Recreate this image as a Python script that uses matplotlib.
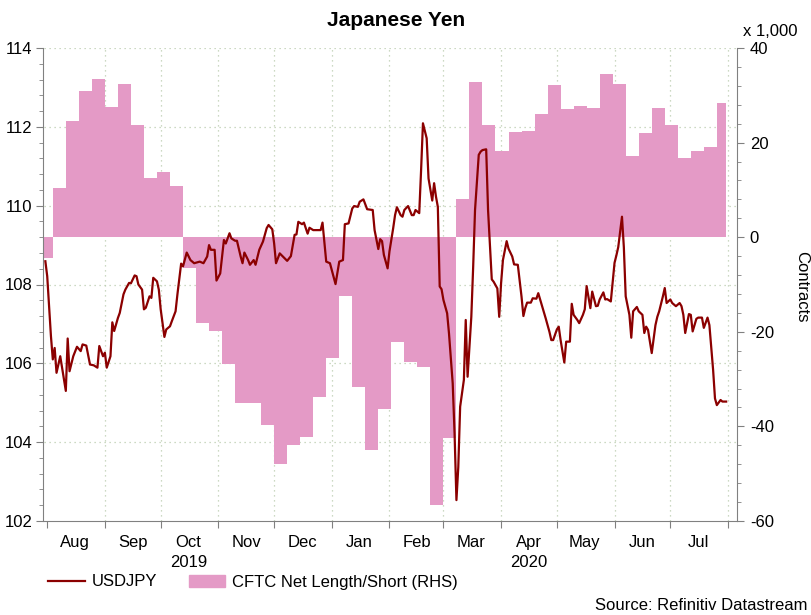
import pandas as pd
import matplotlib
matplotlib.use('Agg')
import matplotlib.pyplot as plt
import matplotlib.dates as mdates
import matplotlib.transforms as mtrans
from matplotlib.lines import Line2D
from matplotlib.patches import Patch
from matplotlib.ticker import MultipleLocator, NullFormatter

plt.rcParams['font.family'] = ['Liberation Sans', 'DejaVu Sans']
plt.rcParams['axes.unicode_minus'] = False

# USDJPY daily (left axis)
usdjpy_dates = [
    '2019-07-31', '2019-08-01', '2019-08-03', '2019-08-04', '2019-08-05', '2019-08-06', '2019-08-08', '2019-08-10', '2019-08-11', '2019-08-12', '2019-08-13', '2019-08-15', '2019-08-17', '2019-08-19', '2019-08-20', '2019-08-22', '2019-08-24', '2019-08-26', '2019-08-28', '2019-08-29', '2019-08-31',
    '2019-09-01', '2019-09-02', '2019-09-04', '2019-09-05', '2019-09-06', '2019-09-08', '2019-09-09', '2019-09-11', '2019-09-12', '2019-09-14', '2019-09-15', '2019-09-17', '2019-09-18', '2019-09-19', '2019-09-21', '2019-09-22', '2019-09-23', '2019-09-25', '2019-09-26', '2019-09-27', '2019-09-29', '2019-09-30',
    '2019-10-01', '2019-10-03', '2019-10-04', '2019-10-06', '2019-10-07', '2019-10-09', '2019-10-10', '2019-10-12', '2019-10-13', '2019-10-15', '2019-10-17', '2019-10-19', '2019-10-22', '2019-10-24', '2019-10-26', '2019-10-27', '2019-10-28', '2019-10-30', '2019-10-31',
    '2019-11-02', '2019-11-04', '2019-11-05', '2019-11-07', '2019-11-08', '2019-11-10', '2019-11-11', '2019-11-13', '2019-11-14', '2019-11-15', '2019-11-17', '2019-11-18', '2019-11-20', '2019-11-21', '2019-11-23', '2019-11-25', '2019-11-27', '2019-11-28', '2019-11-30',
    '2019-12-01', '2019-12-02', '2019-12-04', '2019-12-08', '2019-12-10', '2019-12-12', '2019-12-13', '2019-12-14', '2019-12-16', '2019-12-17', '2019-12-19', '2019-12-20', '2019-12-22', '2019-12-24', '2019-12-26', '2019-12-27', '2019-12-29', '2019-12-31',
    '2020-01-03', '2020-01-05', '2020-01-07', '2020-01-08', '2020-01-10', '2020-01-12', '2020-01-13', '2020-01-15', '2020-01-16', '2020-01-18', '2020-01-20', '2020-01-23', '2020-01-24', '2020-01-26', '2020-01-27', '2020-01-28', '2020-01-29', '2020-01-31',
    '2020-02-01', '2020-02-03', '2020-02-04', '2020-02-05', '2020-02-07', '2020-02-08', '2020-02-09', '2020-02-11', '2020-02-13', '2020-02-14', '2020-02-15', '2020-02-17', '2020-02-18', '2020-02-19', '2020-02-21', '2020-02-22', '2020-02-24', '2020-02-25', '2020-02-26', '2020-02-27', '2020-02-28', '2020-02-29',
    '2020-03-01', '2020-03-03', '2020-03-04', '2020-03-06', '2020-03-07', '2020-03-08', '2020-03-09', '2020-03-10', '2020-03-12', '2020-03-13', '2020-03-14', '2020-03-16', '2020-03-17', '2020-03-18', '2020-03-20', '2020-03-21', '2020-03-22', '2020-03-24', '2020-03-25', '2020-03-27', '2020-03-28', '2020-03-30', '2020-03-31',
    '2020-04-01', '2020-04-02', '2020-04-04', '2020-04-05', '2020-04-07', '2020-04-08', '2020-04-10', '2020-04-12', '2020-04-13', '2020-04-14', '2020-04-15', '2020-04-17', '2020-04-18', '2020-04-20', '2020-04-21', '2020-04-23', '2020-04-25', '2020-04-27', '2020-04-28', '2020-04-29',
    '2020-05-01', '2020-05-02', '2020-05-03', '2020-05-05', '2020-05-06', '2020-05-08', '2020-05-09', '2020-05-10', '2020-05-12', '2020-05-13', '2020-05-15', '2020-05-16', '2020-05-17', '2020-05-19', '2020-05-20', '2020-05-22', '2020-05-23', '2020-05-24', '2020-05-26', '2020-05-27', '2020-05-28', '2020-05-30',
    '2020-06-01', '2020-06-02', '2020-06-03', '2020-06-05', '2020-06-06', '2020-06-07', '2020-06-09', '2020-06-10', '2020-06-11', '2020-06-13', '2020-06-14', '2020-06-16', '2020-06-17', '2020-06-18', '2020-06-19', '2020-06-21', '2020-06-23', '2020-06-24', '2020-06-25', '2020-06-27', '2020-06-28', '2020-06-29',
    '2020-07-01', '2020-07-02', '2020-07-04', '2020-07-06', '2020-07-07', '2020-07-08', '2020-07-09', '2020-07-11', '2020-07-12', '2020-07-13', '2020-07-15', '2020-07-16', '2020-07-18', '2020-07-19', '2020-07-21', '2020-07-22', '2020-07-24', '2020-07-25', '2020-07-26', '2020-07-28', '2020-07-29', '2020-07-31',
]
usdjpy = [
    108.59, 108.21, 106.69, 106.10, 106.39, 105.76, 106.18, 105.59, 105.30, 106.63, 105.80, 106.18, 106.42, 106.31, 106.48, 106.45, 105.97, 105.95, 105.89, 106.44, 106.18,
    106.27, 105.89, 106.18, 107.04, 106.82, 107.15, 107.28, 107.75, 107.87, 108.04, 108.03, 108.23, 108.21, 108.00, 107.87, 107.37, 107.41, 107.70, 107.66, 108.17, 108.08, 107.87,
    107.37, 106.67, 106.86, 106.94, 107.07, 107.32, 107.75, 108.53, 108.46, 108.81, 108.62, 108.54, 108.58, 108.54, 108.71, 109.00, 108.88, 108.88, 108.10,
    108.28, 109.13, 109.04, 109.30, 109.17, 109.11, 109.11, 108.71, 108.54, 108.81, 108.62, 108.50, 108.62, 108.50, 108.88, 109.09, 109.43, 109.51, 109.40,
    109.04, 108.54, 108.79, 108.60, 108.72, 109.26, 109.27, 109.59, 109.53, 109.57, 109.29, 109.44, 109.38, 109.38, 109.38, 109.57, 108.58, 108.54,
    108.01, 108.58, 108.62, 109.53, 109.55, 109.93, 109.99, 109.97, 110.10, 110.16, 109.91, 109.89, 109.38, 108.90, 109.15, 109.10, 108.75, 108.41,
    108.84, 109.43, 109.76, 109.96, 109.76, 109.72, 109.89, 109.99, 109.76, 109.76, 109.89, 109.81, 110.90, 112.09, 111.71, 110.69, 110.13, 110.57, 110.23, 109.97, 107.95, 107.88,
    107.61, 107.27, 106.76, 105.49, 104.22, 102.53, 103.37, 104.90, 105.58, 107.10, 105.66, 107.18, 108.45, 109.89, 111.29, 111.37, 111.41, 111.43, 109.89, 108.13, 108.07, 107.90, 107.18,
    108.03, 108.62, 109.10, 108.91, 108.71, 108.51, 108.50, 107.69, 107.20, 107.40, 107.54, 107.54, 107.65, 107.64, 107.78, 107.46, 107.14, 106.80, 106.59, 106.59,
    106.86, 106.93, 106.59, 106.02, 106.55, 106.55, 107.51, 107.23, 107.10, 107.02, 107.23, 107.37, 107.96, 107.40, 107.82, 107.45, 107.46, 107.62, 107.80, 107.62, 107.63, 107.57,
    108.55, 108.74, 108.95, 109.72, 108.95, 107.70, 107.23, 106.65, 107.32, 107.43, 107.32, 107.23, 106.77, 106.93, 106.85, 106.26, 106.97, 107.18, 107.32, 107.70, 107.91, 107.53,
    107.62, 107.53, 107.45, 107.53, 107.45, 107.23, 106.77, 107.25, 107.23, 106.81, 107.13, 107.16, 107.16, 106.90, 107.16, 106.97, 105.83, 105.11, 104.94, 105.07, 105.03, 105.03,
]

# CFTC net length/short, weekly, thousands of contracts (right axis)
cftc_start = '2019-07-28'
cftc_end = '2020-07-31'
cftc = [-4.3, 10.3, 24.6, 30.9, 33.4, 27.6, 32.4, 23.7, 12.6, 13.7, 10.8,
        -6.6, -18.1, -19.8, -26.8, -35.1, -35.1, -39.7, -47.9, -43.9, -42.3,
        -33.7, -25.5, -12.4, -31.6, -45.0, -36.4, -22.1, -26.4, -27.4, -56.6,
        -42.5, 8.0, 32.9, 23.7, 18.3, 22.3, 22.5, 26.0, 32.2, 27.1, 27.8, 27.4,
        34.5, 32.4, 17.2, 22.1, 27.4, 23.7, 16.7, 18.3, 19.1, 28.4]

month_labels = ['Aug', 'Sep', 'Oct\n2019', 'Nov', 'Dec', 'Jan', 'Feb', 'Mar',
                'Apr\n2020', 'May', 'Jun', 'Jul']

red = '#8b0000'
pink = '#e49ac6'
grey = '#808080'
gridc = '#bccdb0'

fig = plt.figure(figsize=(8.12, 6.15), dpi=100)
ax1 = fig.add_axes([43.5 / 812, 94 / 615, 693.8 / 812, 473 / 615])
ax2 = ax1.twinx()
ax2.set_zorder(1)
ax1.set_zorder(2)
ax1.patch.set_visible(False)

# grid sits under the area
hl = mtrans.blended_transform_factory(ax2.transAxes, ax1.transData)
for y in range(104, 115, 2):
    ax2.plot([0, 1], [y, y], transform=hl, color=gridc, lw=0.9, ls=(0, (1, 3)), zorder=1)
for m in pd.date_range('2019-09-01', '2020-08-01', freq='MS'):
    ax2.axvline(m, color=gridc, lw=0.9, ls=(0, (1, 3)), zorder=1)

cftc_x = list(pd.date_range(cftc_start, periods=len(cftc), freq='7D')) + [pd.Timestamp(cftc_end)]
cftc_y = cftc + [cftc[-1]]
ax2.fill_between(cftc_x, 0, cftc_y, step='post', color=pink, lw=0, zorder=2)

ax1.plot(pd.to_datetime(usdjpy_dates), usdjpy, color=red, lw=1.6, zorder=3)

ax1.set_xlim(pd.Timestamp('2019-07-30'), pd.Timestamp('2020-08-06'))
ax1.set_ylim(102, 114)
ax2.set_ylim(-60, 40)

ax1.yaxis.set_major_locator(MultipleLocator(2))
ax1.yaxis.set_minor_locator(MultipleLocator(0.4))
ax2.yaxis.set_major_locator(MultipleLocator(20))
ax2.yaxis.set_minor_locator(MultipleLocator(4))
ax1.tick_params(axis='y', which='major', length=5, color=grey, labelsize=12, pad=3)
ax1.tick_params(axis='y', which='minor', length=3, color=grey)
ax2.tick_params(axis='y', which='major', length=5, color=grey, labelsize=12, pad=4)
ax2.tick_params(axis='y', which='minor', length=3, color=grey)

ax1.xaxis.set_major_locator(mdates.MonthLocator())
ax1.xaxis.set_major_formatter(NullFormatter())
mids = pd.date_range('2019-08-01', '2020-07-01', freq='MS') + pd.Timedelta(days=15)
ax1.set_xticks(mids, minor=True)
ax1.set_xticklabels(month_labels, minor=True)
for lbl in ax1.get_xticklabels(minor=True):
    lbl.set_linespacing(1.45)
ax1.tick_params(axis='x', which='major', length=5, color=grey)
ax1.tick_params(axis='x', which='minor', length=0, labelsize=12, pad=10)

for s in ['top', 'right']:
    ax1.spines[s].set_visible(False)
for s in ['top', 'left', 'bottom']:
    ax2.spines[s].set_visible(False)
ax1.spines['left'].set_color(grey)
ax1.spines['bottom'].set_color(grey)
ax2.spines['right'].set_color(grey)

fig.text(396 / 812, 1 - 20 / 615, 'Japanese Yen', ha='center', va='center',
         fontsize=15, fontweight='bold')
fig.text(743 / 812, 1 - 32 / 615, 'x 1,000', ha='left', va='center', fontsize=12)
fig.text(802 / 812, 1 - 287 / 615, 'Contracts', ha='center', va='center',
         rotation=270, fontsize=12)
fig.text(808 / 812, 1 - 605 / 615, 'Source: Refinitiv Datastream', ha='right',
         va='center', fontsize=12)

handles = [Line2D([], [], color=red, lw=1.6), Patch(color=pink)]
fig.legend(handles, ['USDJPY', 'CFTC Net Length/Short (RHS)'], loc='center left',
           bbox_to_anchor=(48 / 812, 1 - 582 / 615), ncol=2, frameon=False,
           fontsize=12, handlelength=2.2, handletextpad=0.4, columnspacing=1.9,
           borderaxespad=0, borderpad=0)

fig.savefig('out.png', dpi=100)
